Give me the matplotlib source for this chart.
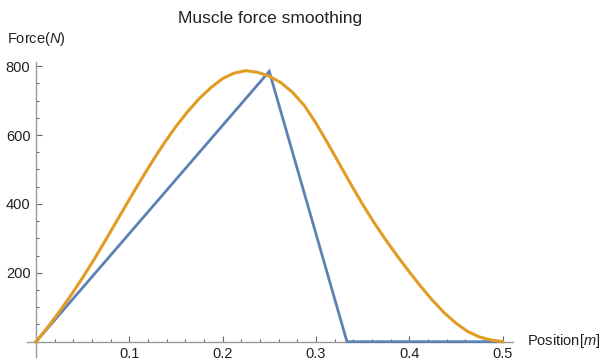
import numpy as np
import matplotlib
matplotlib.use("Agg")
import matplotlib.pyplot as plt
from matplotlib.ticker import MultipleLocator, FixedLocator

plt.rcParams['font.family'] = ['Liberation Sans', 'DejaVu Sans']
plt.rcParams['mathtext.fontset'] = 'custom'
plt.rcParams['mathtext.rm'] = 'Liberation Sans'
plt.rcParams['mathtext.it'] = 'Liberation Sans:italic'

# raw (piecewise linear) muscle force
raw_pos = [0.0, 0.25, 0.3333, 0.5]
raw_force = [0, 785, 0, 0]

# smoothed force, every 0.0125 m
smooth_pos = [0.0, 0.0125, 0.025, 0.0375, 0.05, 0.0625, 0.075, 0.0875, 0.1, 0.1125,
              0.125, 0.1375, 0.15, 0.1625, 0.175, 0.1875, 0.2, 0.2125, 0.225, 0.2375,
              0.25, 0.2625, 0.275, 0.2875, 0.3, 0.3125, 0.325, 0.3375, 0.35, 0.3625,
              0.375, 0.3875, 0.4, 0.4125, 0.425, 0.4375, 0.45, 0.4625, 0.475, 0.4875, 0.5]
smooth_force = [0, 42, 87, 135, 186, 240, 297, 355, 413, 470,
                525, 577, 625, 668, 706, 738, 764, 780, 787, 782,
                771, 752, 724, 686, 635, 577, 517, 457, 399, 345,
                295, 248, 203, 160, 120, 84, 54, 30, 14, 5, 0]

x_major = [0.1, 0.2, 0.3, 0.4, 0.5]
y_major = [200, 400, 600, 800]

blue = '#5E81B5'
orange = '#E19C24'
axis_grey = '#9a9a9a'

fig = plt.figure(figsize=(6.01, 3.64), dpi=100)
ax = fig.add_axes([0.0444, 0.0201, 0.8088, 0.8104])

ax.plot(raw_pos, raw_force, color=blue, lw=2.0, solid_joinstyle='miter', zorder=3)
ax.plot(smooth_pos, smooth_force, color=orange, lw=2.2, zorder=4)

ax.set_xlim(-0.01, 0.511)
ax.set_ylim(-43.5, 813)

for s in ['top', 'right']:
    ax.spines[s].set_visible(False)
ax.spines['left'].set_position(('data', 0))
ax.spines['bottom'].set_position(('data', 0))
for s in ['left', 'bottom']:
    ax.spines[s].set_color(axis_grey)
    ax.spines[s].set_linewidth(1.0)

ax.xaxis.set_major_locator(FixedLocator(x_major))
ax.xaxis.set_minor_locator(MultipleLocator(0.02))
ax.yaxis.set_major_locator(FixedLocator(y_major))
ax.yaxis.set_minor_locator(MultipleLocator(50))
ax.set_xticklabels([f"{v:g}" for v in x_major])
ax.set_yticklabels([str(v) for v in y_major])

ax.tick_params(which='both', direction='in', color='#666666', width=0.8,
               labelsize=10.5, labelcolor='#222222')
ax.tick_params(which='major', length=4)
ax.tick_params(which='minor', length=2.5)
ax.tick_params(axis='x', pad=4)
ax.tick_params(axis='y', pad=4)

fig.text(270 / 601, 1 - 23 / 364, "Muscle force smoothing", ha='center',
         va='baseline', fontsize=12.5, color='#222222')
fig.text(7 / 601, 1 - 43 / 364, "Force($N$)", ha='left', va='baseline',
         fontsize=10.5, color='#222222')
fig.text(527 / 601, 1 - 341 / 364, "Position[$m$]", ha='left', va='center',
         fontsize=10.5, color='#222222')

fig.savefig("out.png", dpi=100)
